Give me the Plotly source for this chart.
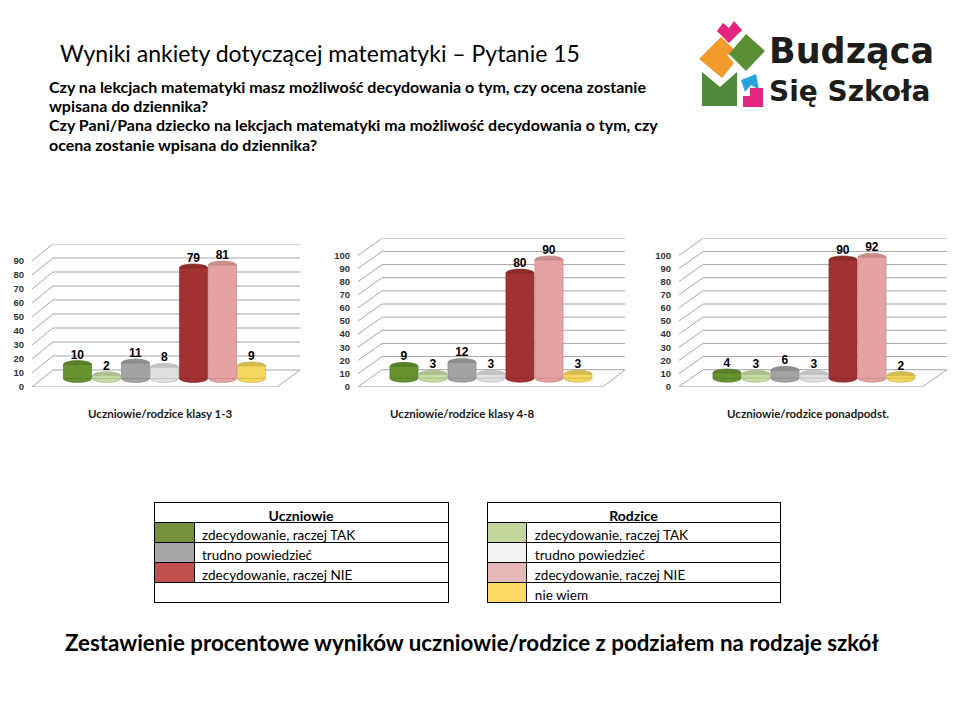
import plotly.graph_objects as go

W, H = 960, 720
OFF = 8  # the page body margin shifts the figure by this many pixels

# --- data ---
categories = [
    "Uczniowie: zdecydowanie, raczej TAK",
    "Rodzice: zdecydowanie, raczej TAK",
    "Uczniowie: trudno powiedzieć",
    "Rodzice: trudno powiedzieć",
    "Uczniowie: zdecydowanie, raczej NIE",
    "Rodzice: zdecydowanie, raczej NIE",
    "Rodzice: nie wiem",
]
klasy_1_3 = [10, 2, 11, 8, 79, 81, 9]
klasy_4_8 = [9, 3, 12, 3, 80, 90, 3]
ponadpodst = [4, 3, 6, 3, 90, 92, 2]
panel_titles = ["Uczniowie/rodzice klasy 1-3", "Uczniowie/rodzice klasy 4-8", "Uczniowie/rodzice ponadpodst."]
ticks_1_3 = [0, 10, 20, 30, 40, 50, 60, 70, 80, 90]
ticks_4_8 = [0, 10, 20, 30, 40, 50, 60, 70, 80, 90, 100]
ticks_ponad = [0, 10, 20, 30, 40, 50, 60, 70, 80, 90, 100]

bar_colors = ["#66922f", "#c6dca2", "#a3a3a3", "#e0e0e0", "#a23131", "#e6a2a2", "#f4d75e"]

legend_uczniowie = ["zdecydowanie, raczej TAK", "trudno powiedzieć", "zdecydowanie, raczej NIE"]
legend_uczniowie_colors = ["#76923c", "#a6a6a6", "#c0504d"]
legend_rodzice = ["zdecydowanie, raczej TAK", "trudno powiedzieć", "zdecydowanie, raczej NIE", "nie wiem"]
legend_rodzice_colors = ["#c3d69b", "#f2f2f2", "#e6b9b8", "#ffd966"]

title_text = "Wyniki ankiety dotyczącej matematyki – Pytanie 15"
question_lines = [
    "Czy na lekcjach matematyki masz możliwość decydowania o tym, czy ocena zostanie",
    "wpisana do dziennika?",
    "Czy Pani/Pana dziecko na lekcjach matematyki ma możliwość decydowania o tym, czy",
    "ocena zostanie wpisana do dziennika?",
]
footer_text = "Zestawienie procentowe wyników uczniowie/rodzice z podziałem na rodzaje szkół"


def px_x(x):
    return (x - OFF) / W


def px_y(y):
    return 1 - (y - OFF) / H


def shade(c, f):
    r, g, b = int(c[1:3], 16), int(c[3:5], 16), int(c[5:7], 16)
    if f < 1:
        r, g, b = r * f, g * f, b * f
    else:
        k = f - 1
        r, g, b = r + (255 - r) * k, g + (255 - g) * k, b + (255 - b) * k
    return "#%02x%02x%02x" % (int(r), int(g), int(b))


# pseudo-3D panel geometry (pixels)
FRONT_DY, DEPTH_PX, CAP_PX, SLOT = 17, 8.5, 4, 29
panels = [
    dict(values=klasy_1_3, ticks=ticks_1_3, left=32, right=300, top=244, bottom=387,
         back=0.078, floor=0.914, c0=77.5, title_x=160),
    dict(values=klasy_4_8, ticks=ticks_4_8, left=358, right=625, top=238.3, bottom=386.7,
         back=0.09, floor=0.918, c0=404, title_x=462),
    dict(values=ponadpodst, ticks=ticks_ponad, left=679, right=947, top=238.3, bottom=386.7,
         back=0.09, floor=0.91, c0=727, title_x=808),
]

fig = go.Figure()
shapes = []
annotations = []
grid = "#a6a6a6"

for n, p in enumerate(panels, start=1):
    suffix = "" if n == 1 else str(n)
    xa, ya = "x" + suffix, "y" + suffix
    vmax = p["ticks"][-1]
    scale = (p["bottom"] - FRONT_DY - p["top"]) / vmax
    front = FRONT_DY / scale
    depth = DEPTH_PX / scale
    cap = CAP_PX / scale
    x0 = -(p["c0"] - p["left"]) / SLOT
    x1 = x0 + (p["right"] - p["left"]) / SLOT

    fig.add_trace(go.Bar(
        x=categories, y=p["values"], base=-depth,
        xaxis=xa, yaxis=ya, width=0.97,
        marker=dict(color=bar_colors, line=dict(color=[shade(c, 0.8) for c in bar_colors], width=0.6)),
        text=p["values"], textposition="outside", cliponaxis=False,
        textfont=dict(family="Liberation Sans", size=12, color="black", weight="bold"),
        showlegend=False, hoverinfo="x+text",
    ))

    # cylinder caps and bottoms
    for i, (v, c) in enumerate(zip(p["values"], bar_colors)):
        for yc, col in ((v - depth, shade(c, 0.88)), (-depth, c)):
            shapes.append(dict(type="circle", xref=xa, yref=ya, layer="between",
                               x0=i - 0.485, x1=i + 0.485, y0=yc - cap, y1=yc + cap,
                               fillcolor=col, line=dict(color=shade(c, 0.8), width=0.6)))

    # back wall grid, side wall connectors, floor
    dom = xa + " domain"
    for t in p["ticks"]:
        shapes.append(dict(type="line", xref=dom, yref=ya, x0=p["back"], x1=1, y0=t, y1=t,
                           layer="below", line=dict(color=grid, width=1)))
        shapes.append(dict(type="line", xref=dom, yref=ya, x0=0, x1=p["back"], y0=t - front, y1=t,
                           layer="below", line=dict(color=grid, width=1)))
    shapes.append(dict(type="line", xref=dom, yref=ya, x0=0, x1=p["floor"], y0=-front, y1=-front,
                       layer="below", line=dict(color=grid, width=1)))
    shapes.append(dict(type="line", xref=dom, yref=ya, x0=p["floor"], x1=1, y0=-front, y1=0,
                       layer="below", line=dict(color=grid, width=1)))

    fig.update_layout({
        "xaxis" + suffix: dict(domain=[px_x(p["left"]), px_x(p["right"])], range=[x0, x1],
                               visible=False, anchor=ya, fixedrange=True),
        "yaxis" + suffix: dict(domain=[px_y(p["bottom"]), px_y(p["top"])], range=[-front, vmax],
                               anchor=xa, showgrid=False, zeroline=False, showline=False,
                               tickvals=p["ticks"], ticks="", ticklabelshift=FRONT_DY,
                               ticklabelstandoff=7, automargin=False,
                               tickfont=dict(family="Liberation Sans", size=9.5, color="#333333",
                                             weight="bold")),
    })

    annotations.append(dict(text="<b>" + panel_titles[n - 1] + "</b>", x=px_x(p["title_x"]), y=px_y(413),
                            xref="paper", yref="paper", showarrow=False, xanchor="center",
                            font=dict(family="Lato", size=11.5, color="#1a1a1a")))


# legend tables: an outline table (title + empty rows), then the coloured rows on top of it
def legend_table(left, right, title, labels, colors):
    dx = [px_x(left), px_x(right)]
    line = dict(color="black", width=1)
    cell_font = dict(family="Lato", size=13.5, color="black")
    fig.add_trace(go.Table(
        domain=dict(x=dx, y=[px_y(604), px_y(502)]),
        columnwidth=[1],
        header=dict(values=[title], height=20, align="center", fill_color="white", line=line,
                    font=dict(family="Lato", size=14, color="black", weight="bold")),
        cells=dict(values=[[""] * 4], height=20, fill_color="white", line=line),
    ))
    fig.add_trace(go.Table(
        domain=dict(x=dx, y=[px_y(524 + 20 * len(labels)), px_y(522)]),
        columnwidth=[40, 254],
        header=dict(values=["", labels[0]], height=20, align="left",
                    fill_color=[colors[0], "white"], line=line, font=cell_font),
        cells=dict(values=[[""] * (len(labels) - 1), labels[1:]], height=20, align="left",
                   fill_color=[colors[1:], ["white"] * (len(labels) - 1)], line=line, font=cell_font),
    ))


legend_table(154, 448, "Uczniowie", legend_uczniowie, legend_uczniowie_colors)
legend_table(487, 781, "Rodzice", legend_rodzice, legend_rodzice_colors)

# headings
annotations.append(dict(text=title_text, x=px_x(58), y=px_y(53), xref="paper", yref="paper",
                        showarrow=False, xanchor="left", yanchor="middle",
                        font=dict(family="Lato", size=23, color="black")))
for line, yl in zip(question_lines, [86, 105.3, 124.6, 144]):
    annotations.append(dict(text="<b>" + line + "</b>", x=px_x(48), y=px_y(yl),
                            xref="paper", yref="paper", showarrow=False, xanchor="left",
                            yanchor="middle", borderpad=0,
                            font=dict(family="Lato", size=16, color="black")))
annotations.append(dict(text="<b>" + footer_text + "</b>", x=px_x(472), y=px_y(642), xref="paper",
                        yref="paper", showarrow=False, xanchor="center", yanchor="middle",
                        font=dict(family="Lato", size=22.3, color="black")))


# logo "Budząca Się Szkoła"
def poly(points, color):
    path = "M " + " L ".join("%.4f,%.4f" % (px_x(x), px_y(y)) for x, y in points) + " Z"
    shapes.append(dict(type="path", xref="paper", yref="paper", path=path, fillcolor=color,
                       line=dict(width=0)))


poly([(717, 31), (723, 23), (729, 28), (734, 21), (742, 30), (729, 43)], "#e5247f")
poly([(699, 59), (721, 37), (738, 53), (727, 55), (734, 63), (722, 78)], "#f39a2c")
poly([(729, 54), (746, 34), (765, 51), (746, 71)], "#5b8f35")
poly([(702, 72), (720, 87), (737, 72), (737, 106), (702, 106)], "#4f8a3a")
poly([(741, 80), (756, 74), (759, 90), (751, 85), (745, 92)], "#2aa3dd")
poly([(750, 88), (763, 88), (763, 107), (743, 107), (743, 96), (750, 96)], "#e5247f")

annotations.append(dict(text="<b>Budząca</b>", x=px_x(767), y=px_y(51), xref="paper", yref="paper",
                        showarrow=False, xanchor="left", yanchor="middle",
                        font=dict(family="DejaVu Sans", size=35, color="#1d1d1b")))
annotations.append(dict(text="<b>Się Szkoła</b>", x=px_x(767), y=px_y(91), xref="paper", yref="paper",
                        showarrow=False, xanchor="left", yanchor="middle",
                        font=dict(family="DejaVu Sans", size=28, color="#1d1d1b")))

fig.update_layout(
    width=W, height=H, margin=dict(l=0, r=0, t=0, b=0, autoexpand=False),
    paper_bgcolor="white", plot_bgcolor="rgba(0,0,0,0)",
    showlegend=False, shapes=shapes, annotations=annotations,
)

fig.write_html("out.html")
